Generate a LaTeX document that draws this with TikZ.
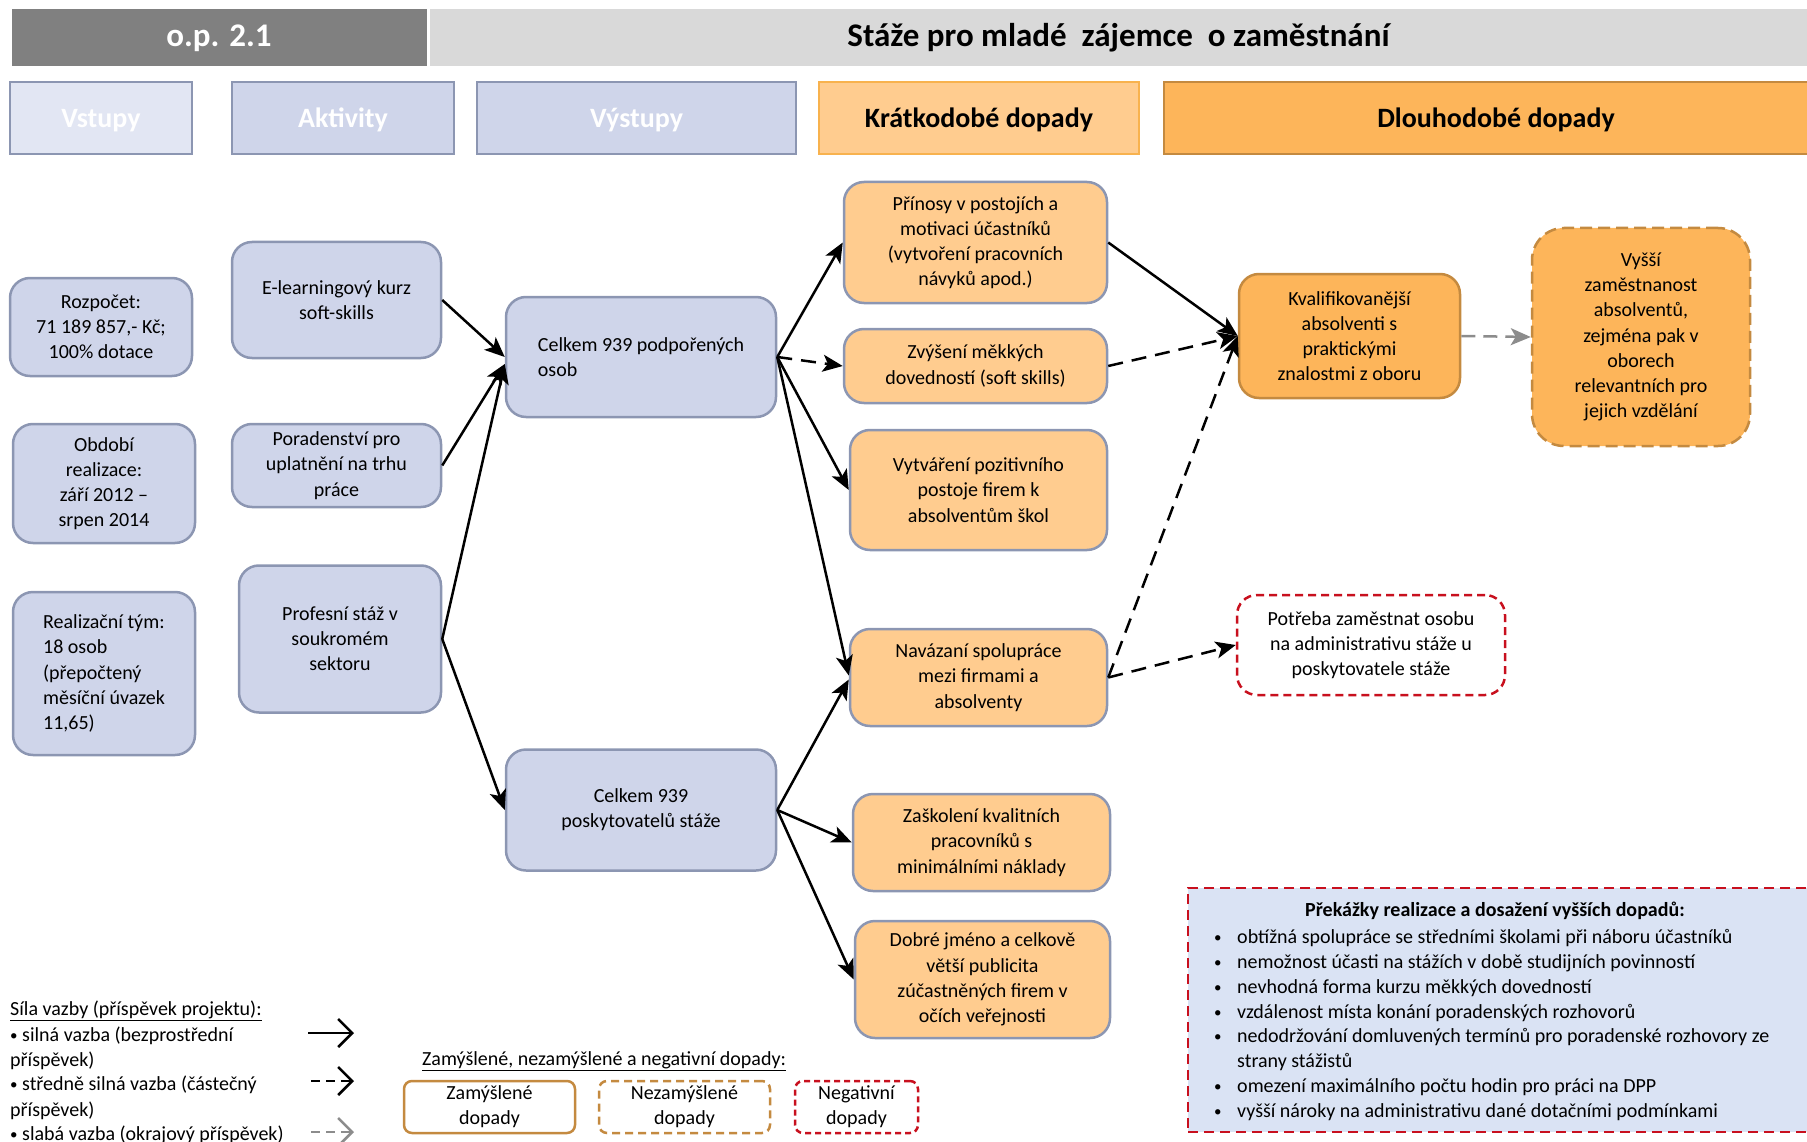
\documentclass[tikz,border=0pt]{standalone}
\usepackage{fontspec}
\setmainfont{Carlito}
\usetikzlibrary{arrows.meta}
\definecolor{gbfill}{HTML}{CFD5EA}
\definecolor{gbdraw}{HTML}{8C96B2}
\definecolor{vsfill}{HTML}{E2E6F3}
\definecolor{lofill}{HTML}{FFCC8F}
\definecolor{hkdraw}{HTML}{F8B24E}
\definecolor{dofill}{HTML}{FDB55A}
\definecolor{brdraw}{HTML}{C48A40}
\definecolor{negred}{HTML}{C8101E}
\definecolor{obfill}{HTML}{DAE3F4}
\definecolor{hdrdark}{HTML}{808080}
\definecolor{hdrlight}{HTML}{D9D9D9}
\definecolor{arrgray}{HTML}{8C8C8C}
\newcommand\bxfont{\fontsize{20}{25.2}\selectfont}
\newcommand\hdfont{\fontsize{28}{32}\selectfont\bfseries}
\newcommand\ttlfont{\fontsize{33}{37}\selectfont\bfseries}
\newcommand\smbul{\raisebox{1pt}{\fontsize{15}{15}\selectfont•}}
\begin{document}
\begin{tikzpicture}[x=1pt,y=-1pt,
  bx/.style={line width=2.5pt, rounded corners=20pt, align=center, inner sep=0pt, font=\bxfont},
  gbox/.style={bx, draw=gbdraw, fill=gbfill},
  obox/.style={bx, draw=gbdraw, fill=lofill},
  dbox/.style={bx, draw=brdraw, fill=dofill},
  hdr/.style={line width=2.5pt, inner sep=0pt, font=\hdfont, minimum height=72pt, text depth=0pt},
  topbar/.style={inner sep=0pt, minimum height=57pt, font=\ttlfont},
  conn/.style={line width=2.5pt, -{Stealth[length=20pt,width=17pt,inset=5pt]}},
  midconn/.style={conn, dash pattern=on 15pt off 9pt},
  weakconn/.style={conn, draw=arrgray, dash pattern=on 14pt off 8pt},
  lbl/.style={inner sep=0pt, font=\bxfont, anchor=base west},
  legbox/.style={line width=2.5pt, rounded corners=8pt, fill=white, align=center, inner sep=0pt, font=\bxfont, minimum height=52pt},
  legarr/.style={line width=2.5pt, -{Straight Barb[length=14pt,width=28pt]}},
]
\useasboundingbox (0,0) rectangle (1807,1142);

% top bars
\node[topbar, fill=hdrdark, text=white, minimum width=415pt] (opbar) at (219,38) {o.p. 2.1};
\node[topbar, fill=hdrlight, minimum width=1377pt] (ttlbar) at (1118.5,38) {Stáže pro mladé\ \ zájemce\ \ o zaměstnání};

% column headers
\node[hdr, draw=gbdraw, fill=vsfill, text=white, minimum width=182pt] (hvst) at (101,118) {Vstupy};
\node[hdr, draw=gbdraw, fill=gbfill, text=white, minimum width=222pt] (hakt) at (343,118) {Aktivity};
\node[hdr, draw=gbdraw, fill=gbfill, text=white, minimum width=319pt] (hvys) at (636.5,118) {Výstupy};
\node[hdr, draw=hkdraw, fill=lofill, minimum width=320pt] (hkrat) at (979,118) {Krátkodobé dopady};
\node[hdr, draw=brdraw, fill=dofill, minimum width=664pt] (hdlou) at (1496,118) {Dlouhodobé dopady};

% inputs
\node[gbox, minimum width=182pt, minimum height=98pt] (rozp) at (101,327) {Rozpočet:\\71 189 857,- Kč;\\100\% dotace};
\node[gbox, minimum width=182pt, minimum height=119pt] (obd) at (104,483.5) {Období\\realizace:\\září 2012 –\\srpen 2014};
\node[gbox, align=left, minimum width=182pt, minimum height=163pt] (real) at (104,673.5) {Realizační tým:\\18 osob\\(přepočtený\\měsíční úvazek\\11,65)};

% activities
\node[gbox, minimum width=209pt, minimum height=116pt] (elearn) at (336.5,300) {E-learningový kurz\\soft-skills};
\node[gbox, minimum width=209pt, minimum height=83pt] (porad) at (336.5,465.5) {Poradenství pro\\uplatnění na trhu\\práce};
\node[gbox, minimum width=202pt, minimum height=147pt] (profes) at (340,639) {Profesní stáž v\\soukromém\\sektoru};

% outputs
\node[gbox, align=left, minimum width=270pt, minimum height=120pt] (podpor) at (641,357) {Celkem 939 podpořených\\osob};
\node[gbox, minimum width=270pt, minimum height=121pt] (poskyt) at (641,810) {Celkem 939\\poskytovatelů stáže};

% short-term
\node[obox, minimum width=263pt, minimum height=121pt] (prinosy) at (975.5,242.5) {Přínosy v postojích a\\motivaci účastníků\\(vytvoření pracovních\\návyků apod.)};
\node[obox, minimum width=263pt, minimum height=74pt] (zvyseni) at (975.5,366) {Zvýšení měkkých\\dovedností (soft skills)};
\node[obox, minimum width=257pt, minimum height=120pt] (vytvar) at (978.5,490) {Vytváření pozitivního\\postoje firem k\\absolventům škol};
\node[obox, minimum width=257pt, minimum height=97pt] (navaz) at (978.5,677.5) {Navázaní spolupráce\\mezi firmami a\\absolventy};
\node[obox, minimum width=257pt, minimum height=97pt] (zaskol) at (981.5,842.5) {Zaškolení kvalitních\\pracovníků s\\minimálními náklady};
\node[obox, minimum width=255pt, minimum height=117pt] (dobre) at (982.5,979.5) {Dobré jméno a celkově\\větší publicita\\zúčastněných firem v\\očích veřejnosti};

% long-term
\node[dbox, minimum width=221pt, minimum height=124pt] (kvalif) at (1349.5,336) {Kvalifikovanější\\absolventi s\\praktickými\\znalostmi z oboru};
\node[dbox, rounded corners=32pt, dash pattern=on 12pt off 6pt, minimum width=218pt, minimum height=218pt] (vyssi) at (1641,337) {Vyšší\\zaměstnanost\\absolventů,\\zejména pak v\\oborech\\relevantních pro\\jejich vzdělání};
\node[bx, draw=negred, fill=white, dash pattern=on 8pt off 5pt, minimum width=268pt, minimum height=100pt] (potreba) at (1371,645) {Potřeba zaměstnat osobu\\na administrativu stáže u\\poskytovatele stáže};

% connectors
\draw[conn] (elearn.east) -- (podpor.west);
\draw[conn] (porad.east) -- ([yshift=-7pt]podpor.west);
\draw[conn] (profes.east) -- ([yshift=-7pt]podpor.west);
\draw[conn] (profes.east) -- (poskyt.west);
\draw[conn] (podpor.east) -- (prinosy.west);
\draw[midconn] (podpor.east) -- (zvyseni.west);
\draw[conn] (podpor.east) -- (vytvar.west);
\draw[conn] (podpor.east) -- ([yshift=2pt]navaz.west);
\draw[conn] (poskyt.east) -- ([yshift=-2pt]navaz.west);
\draw[conn] (poskyt.east) -- (zaskol.west);
\draw[conn] (poskyt.east) -- (dobre.west);
\draw[conn] (prinosy.east) -- (kvalif.west);
\draw[midconn] (zvyseni.east) -- (kvalif.west);
\draw[midconn] (navaz.east) -- (kvalif.west);
\draw[midconn] (navaz.east) -- (potreba.west);
\draw[weakconn] (kvalif.east) -- (vyssi.west);

% obstacles box
\node[draw=negred, fill=obfill, line width=2.5pt, dash pattern=on 10pt off 6pt, minimum width=627pt, minimum height=244pt, inner sep=0pt] (obst) at (1501.5,1010) {};
\node[inner sep=0pt, font=\bxfont\bfseries] (obttl) at (1495,911) {Překážky realizace a dosažení vyšších dopadů:};
\node[lbl] (ob1) at (1214,943) {\makebox[23pt][l]{\smbul}obtížná spolupráce se středními školami při náboru účastníků};
\node[lbl] (ob2) at (1214,968) {\makebox[23pt][l]{\smbul}nemožnost účasti na stážích v době studijních povinností};
\node[lbl] (ob3) at (1214,993) {\makebox[23pt][l]{\smbul}nevhodná forma kurzu měkkých dovedností};
\node[lbl] (ob4) at (1214,1018) {\makebox[23pt][l]{\smbul}vzdálenost místa konání poradenských rozhovorů};
\node[lbl] (ob5) at (1214,1042) {\makebox[23pt][l]{\smbul}nedodržování domluvených termínů pro poradenské rozhovory ze};
\node[lbl] (ob5b) at (1237,1067) {strany stážistů};
\node[lbl] (ob6) at (1214,1092) {\makebox[23pt][l]{\smbul}omezení maximálního počtu hodin pro práci na DPP};
\node[lbl] (ob7) at (1214,1117) {\makebox[23pt][l]{\smbul}vyšší nároky na administrativu dané dotačními podmínkami};

% legend: strength of link
\node[lbl] (lg0) at (10,1015) {\underline{Síla vazby (příspěvek projektu):}};
\node[lbl] (lg1) at (10,1041) {\smbul\ silná vazba (bezprostřední};
\node[lbl] (lg1b) at (10,1066) {příspěvek)};
\node[lbl] (lg2) at (10,1090) {\smbul\ středně silná vazba (částečný};
\node[lbl] (lg2b) at (10,1116) {příspěvek)};
\node[lbl] (lg3) at (10,1140) {\smbul\ slabá vazba (okrajový příspěvek)};
\coordinate (la1) at (308,1033);
\coordinate (lb1) at (354,1033);
\coordinate (la2) at (311,1081);
\coordinate (lb2) at (354,1081);
\coordinate (la3) at (311,1132);
\coordinate (lb3) at (354,1132);
\draw[legarr] (la1) -- (lb1);
\draw[legarr, dash pattern=on 9pt off 6pt] (la2) -- (lb2);
\draw[legarr, draw=arrgray, dash pattern=on 9pt off 6pt] (la3) -- (lb3);

% legend: intended / unintended / negative
\node[lbl] (lgz) at (422,1065) {\underline{Zamýšlené, nezamýšlené a negativní dopady:}};
\node[legbox, draw=brdraw, minimum width=171pt] (lzam) at (489.5,1107) {Zamýšlené\\dopady};
\node[legbox, draw=brdraw, dash pattern=on 8pt off 5pt, minimum width=171pt] (lnez) at (684.5,1107) {Nezamýšlené\\dopady};
\node[legbox, draw=negred, dash pattern=on 6pt off 4pt, minimum width=123pt] (lneg) at (856.5,1107) {Negativní\\dopady};
\end{tikzpicture}
\end{document}
